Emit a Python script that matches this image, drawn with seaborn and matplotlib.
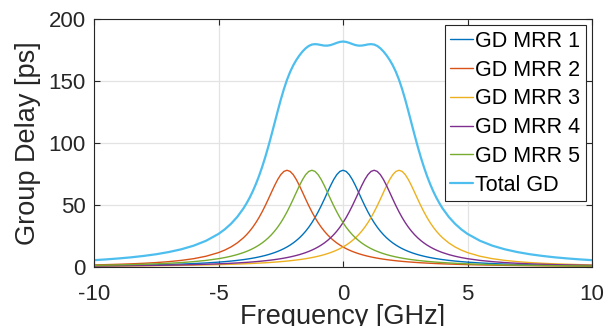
import numpy as np
import pandas as pd
import matplotlib
matplotlib.use("Agg")
import matplotlib.pyplot as plt
import seaborn as sns

# ---------------- data ----------------
freq_ghz = [-10.0, -9.5, -9.0, -8.5, -8.0, -7.5, -7.0, -6.5, -6.0, -5.5,
            -5.0, -4.75, -4.5, -4.25,
            -4.0, -3.875, -3.75, -3.625, -3.5, -3.375, -3.25, -3.125, -3.0, -2.875, -2.75,
            -2.625, -2.5, -2.375, -2.25, -2.125, -2.0, -1.875, -1.75, -1.625, -1.5, -1.375,
            -1.25, -1.125, -1.0, -0.875, -0.75, -0.625, -0.5, -0.375, -0.25, -0.125,
            0.0,
            0.125, 0.25, 0.375, 0.5, 0.625, 0.75, 0.875, 1.0, 1.125, 1.25, 1.375, 1.5, 1.625,
            1.75, 1.875, 2.0, 2.125, 2.25, 2.375, 2.5, 2.625, 2.75, 2.875, 3.0, 3.125, 3.25,
            3.375, 3.5, 3.625, 3.75, 3.875, 4.0,
            4.25, 4.5, 4.75, 5.0,
            5.5, 6.0, 6.5, 7.0, 7.5, 8.0, 8.5, 9.0, 9.5, 10.0]

gd_mrr1 = [1.02, 1.13, 1.25, 1.40, 1.58, 1.79, 2.05, 2.37, 2.76, 3.27,
           3.92, 4.32, 4.78, 5.32,
           5.95, 6.31, 6.70, 7.13, 7.60, 8.11, 8.68, 9.30, 9.99, 10.76, 11.61, 12.56, 13.62,
           14.81, 16.16, 17.67, 19.38, 21.32, 23.52, 26.03, 28.87, 32.10, 35.76, 39.86, 44.42,
           49.40, 54.72, 60.21, 65.60, 70.50, 74.48, 77.09,
           78.00,
           77.09, 74.48, 70.50, 65.60, 60.21, 54.72, 49.40, 44.42, 39.86, 35.76, 32.10, 28.87,
           26.03, 23.52, 21.32, 19.38, 17.67, 16.16, 14.81, 13.62, 12.56, 11.61, 10.76, 9.99,
           9.30, 8.68, 8.11, 7.60, 7.13, 6.70, 6.31, 5.95,
           5.32, 4.78, 4.32, 3.92,
           3.27, 2.76, 2.37, 2.05, 1.79, 1.58, 1.40, 1.25, 1.13, 1.02]

gd_mrr2 = [1.68, 1.91, 2.20, 2.55, 3.00, 3.57, 4.32, 5.32, 6.70, 8.68,
           11.61, 13.62, 16.16, 19.38,
           23.52, 26.03, 28.87, 32.10, 35.76, 39.86, 44.42, 49.40, 54.72, 60.21, 65.60, 70.50,
           74.48, 77.09, 78.00,
           77.09, 74.48, 70.50, 65.60, 60.21, 54.72, 49.40, 44.42, 39.86, 35.76, 32.10, 28.87,
           26.03, 23.52, 21.32, 19.38, 17.67, 16.16, 14.81, 13.62, 12.56, 11.61, 10.76, 9.99,
           9.30, 8.68, 8.11, 7.60, 7.13, 6.70, 6.31, 5.95, 5.63, 5.32, 5.04, 4.78, 4.54, 4.32,
           4.11, 3.92, 3.74, 3.57, 3.41, 3.27, 3.13, 3.00, 2.88, 2.76, 2.66, 2.55,
           2.37, 2.20, 2.05, 1.91,
           1.68, 1.49, 1.32, 1.19, 1.07, 0.97, 0.88, 0.81, 0.74, 0.68]

gd_mrr3 = [0.68, 0.74, 0.81, 0.88, 0.97, 1.07, 1.19, 1.32, 1.49, 1.68,
           1.91, 2.05, 2.20, 2.37,
           2.55, 2.66, 2.76, 2.88, 3.00, 3.13, 3.27, 3.41, 3.57, 3.74, 3.92, 4.11, 4.32, 4.54,
           4.78, 5.04, 5.32, 5.63, 5.95, 6.31, 6.70, 7.13, 7.60, 8.11, 8.68, 9.30, 9.99, 10.76,
           11.61, 12.56, 13.62, 14.81, 16.16, 17.67, 19.38, 21.32, 23.52, 26.03, 28.87, 32.10,
           35.76, 39.86, 44.42, 49.40, 54.72, 60.21, 65.60, 70.50, 74.48, 77.09,
           78.00, 77.09, 74.48, 70.50, 65.60, 60.21, 54.72, 49.40, 44.42, 39.86, 35.76, 32.10,
           28.87, 26.03, 23.52,
           19.38, 16.16, 13.62, 11.61,
           8.68, 6.70, 5.32, 4.32, 3.57, 3.00, 2.55, 2.20, 1.91, 1.68]

gd_mrr4 = [0.81, 0.88, 0.97, 1.07, 1.19, 1.32, 1.49, 1.68, 1.91, 2.20,
           2.55, 2.76, 3.00, 3.27,
           3.57, 3.74, 3.92, 4.11, 4.32, 4.54, 4.78, 5.04, 5.32, 5.63, 5.95, 6.31, 6.70, 7.13,
           7.60, 8.11, 8.68, 9.30, 9.99, 10.76, 11.61, 12.56, 13.62, 14.81, 16.16, 17.67, 19.38,
           21.32, 23.52, 26.03, 28.87, 32.10, 35.76, 39.86, 44.42, 49.40, 54.72, 60.21, 65.60,
           70.50, 74.48, 77.09,
           78.00, 77.09, 74.48, 70.50, 65.60, 60.21, 54.72, 49.40, 44.42, 39.86, 35.76, 32.10,
           28.87, 26.03, 23.52, 21.32, 19.38, 17.67, 16.16, 14.81, 13.62, 12.56, 11.61,
           9.99, 8.68, 7.60, 6.70,
           5.32, 4.32, 3.57, 3.00, 2.55, 2.20, 1.91, 1.68, 1.49, 1.32]

gd_mrr5 = [1.32, 1.49, 1.68, 1.91, 2.20, 2.55, 3.00, 3.57, 4.32, 5.32,
           6.70, 7.60, 8.68, 9.99,
           11.61, 12.56, 13.62, 14.81, 16.16, 17.67, 19.38, 21.32, 23.52, 26.03, 28.87, 32.10,
           35.76, 39.86, 44.42, 49.40, 54.72, 60.21, 65.60, 70.50, 74.48, 77.09, 78.00,
           77.09, 74.48, 70.50, 65.60, 60.21, 54.72, 49.40, 44.42, 39.86, 35.76, 32.10, 28.87,
           26.03, 23.52, 21.32, 19.38, 17.67, 16.16, 14.81, 13.62, 12.56, 11.61, 10.76, 9.99,
           9.30, 8.68, 8.11, 7.60, 7.13, 6.70, 6.31, 5.95, 5.63, 5.32, 5.04, 4.78, 4.54, 4.32,
           4.11, 3.92, 3.74, 3.57,
           3.27, 3.00, 2.76, 2.55,
           2.20, 1.91, 1.68, 1.49, 1.32, 1.19, 1.07, 0.97, 0.88, 0.81]

gd_total = [5.51, 6.15, 6.91, 7.81, 8.94, 10.30, 12.05, 14.26, 17.18, 21.15,
            26.69, 30.35, 34.82, 40.33,
            47.20, 51.30, 55.87, 61.03, 66.84, 73.31, 80.53, 88.47, 97.12, 106.37, 115.95,
            125.58, 134.88, 143.43, 150.96, 157.31, 162.58, 166.96, 170.66, 173.81, 176.38,
            178.28, 179.40, 179.73, 179.50, 178.97, 178.56, 178.53, 178.97, 179.81, 180.77,
            181.53,
            181.84,
            181.53, 180.77, 179.81, 178.97, 178.53, 178.56, 178.97, 179.50, 179.73, 179.40,
            178.28, 176.38, 173.81, 170.66, 166.96, 162.58, 157.31, 150.96, 143.43, 134.88,
            125.58, 115.95, 106.37, 97.12, 88.47, 80.53, 73.31, 66.84, 61.03, 55.87, 51.30,
            47.20,
            40.33, 34.82, 30.35, 26.69,
            21.15, 17.18, 14.26, 12.05, 10.30, 8.94, 7.81, 6.91, 6.15, 5.51]

series_names = ["GD MRR 1", "GD MRR 2", "GD MRR 3", "GD MRR 4", "GD MRR 5", "Total GD"]
series_values = [gd_mrr1, gd_mrr2, gd_mrr3, gd_mrr4, gd_mrr5, gd_total]
x_ticks = [-10, -5, 0, 5, 10]
y_ticks = [0, 50, 100, 150, 200]

# ---------------- style ----------------
colors = ["#0072BD", "#D95319", "#EDB120", "#7E2F8E", "#77AC30", "#4DBEEE"]
widths = [1.0, 1.0, 1.0, 1.0, 1.0, 1.6]

sns.set_style("white")
plt.rcParams["font.family"] = ["Liberation Sans", "DejaVu Sans"]

frames = []
for name, vals in zip(series_names, series_values):
    frames.append(pd.DataFrame({"freq": freq_ghz, "gd": vals, "series": name}))
df = pd.concat(frames, ignore_index=True)

fig = plt.figure(figsize=(6.07, 3.26), dpi=100)
ax = fig.add_axes([0.1549, 0.181, 0.8204, 0.7607])

for name, col, lw in zip(series_names, colors, widths):
    sub = df[df["series"] == name]
    sns.lineplot(data=sub, x="freq", y="gd", ax=ax, color=col, linewidth=lw,
                 label=name, estimator=None, sort=False)

ax.set_xlim(-10, 10)
ax.set_ylim(0, 200)
ax.set_xticks(x_ticks)
ax.set_yticks(y_ticks)
ax.set_xticklabels([str(t) for t in x_ticks])
ax.set_yticklabels([str(t) for t in y_ticks])

ax.grid(True, color="#e3e3e3", linewidth=0.9)
ax.set_axisbelow(True)
for s in ax.spines.values():
    s.set_visible(True)
    s.set_color("#262626")
    s.set_linewidth(0.8)
ax.tick_params(direction="in", length=4, width=0.8, colors="#262626",
               labelsize=16, top=True, right=True, bottom=True, left=True, pad=6)
ax.tick_params(axis="x", pad=12)

ax.set_xlabel("Frequency [GHz]", fontsize=19.5, color="#262626", labelpad=-0.8)
ax.set_ylabel("Group Delay [ps]", fontsize=19.5, color="#262626", labelpad=5)

leg = ax.legend(loc="upper right", fontsize=15.5, frameon=True, fancybox=False,
                handlelength=1.05, handletextpad=0.1, labelspacing=0.36,
                borderpad=0.25, borderaxespad=0.3, framealpha=1.0)
leg.get_frame().set_edgecolor("#262626")
leg.get_frame().set_linewidth(0.8)
for t in leg.get_texts():
    t.set_color("black")

fig.savefig("out.png", dpi=100)
